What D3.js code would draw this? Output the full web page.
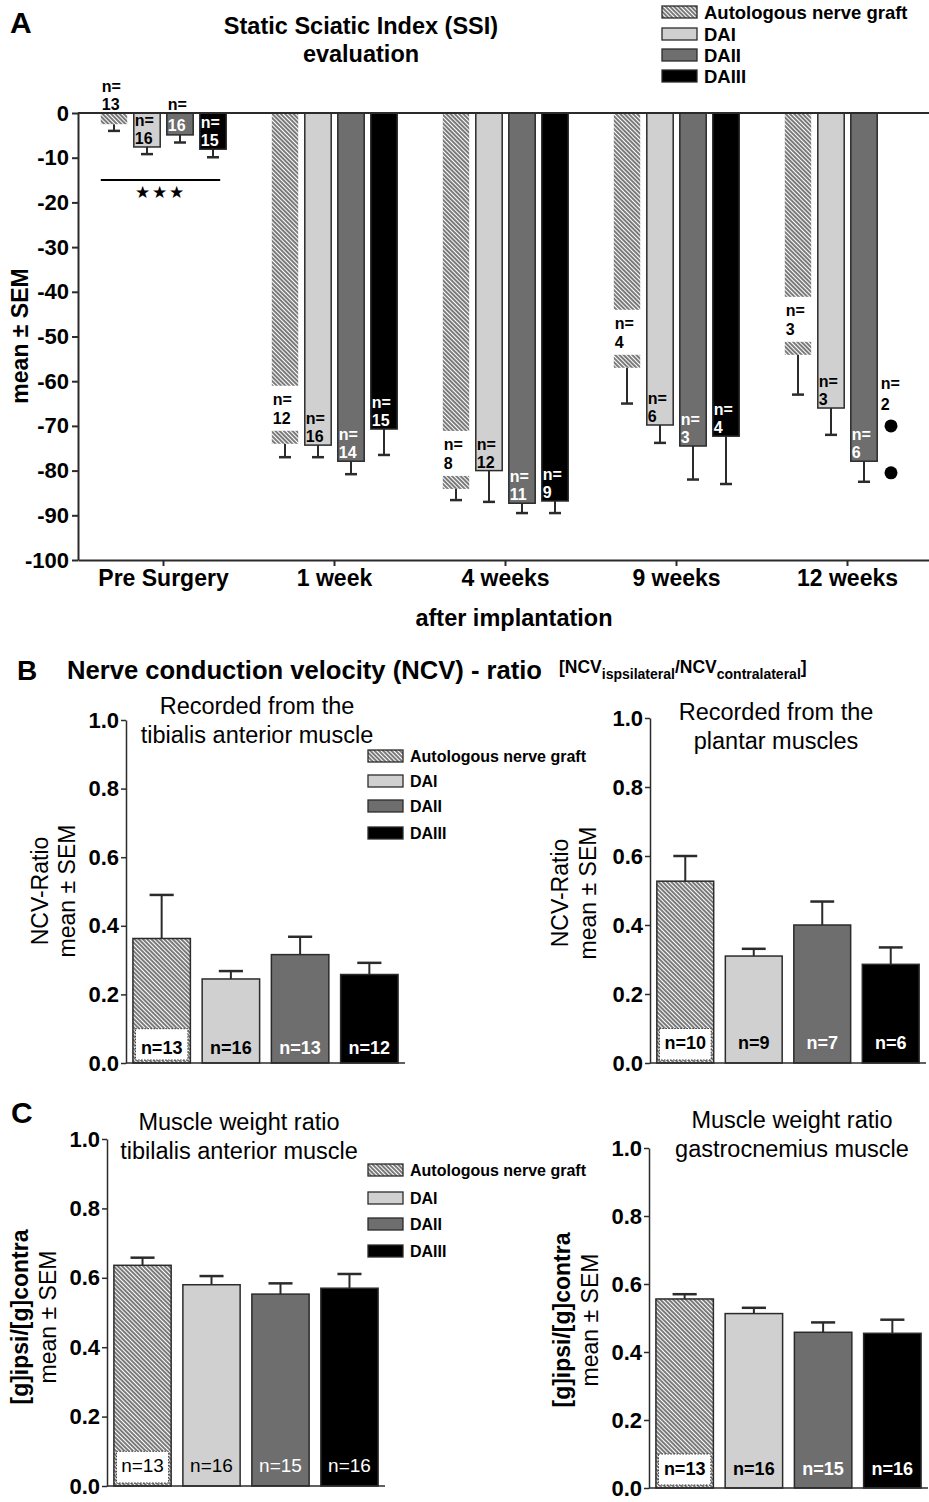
<!DOCTYPE html>
<html>
<head>
<meta charset="utf-8">
<title>SSI, NCV ratio and muscle weight ratio</title>
<script src="https://cdnjs.cloudflare.com/ajax/libs/d3/7.8.5/d3.min.js"></script>
<style>
  body { margin: 0; background: #fff; }
  svg { font-family: "Liberation Sans", Arial, sans-serif; }
</style>
</head>
<body>
<svg id="fig" width="929" height="1502"></svg>
<script>

// ---- data ----
const seriesNames = ['Autologous nerve graft', 'DAI', 'DAII', 'DAIII'];

// panel A: static sciatic index, rows = time point, cols = series
const ssiGroups = ['Pre Surgery', '1 week', '4 weeks', '9 weeks', '12 weeks'];
const ssiTicks = [0, -10, -20, -30, -40, -50, -60, -70, -80, -90, -100];
const ssiMean = [
  [-2.5, -7.6, -4.9, -8.1],
  [-74.0, -74.3, -77.9, -70.7],
  [-84.1, -80.0, -87.3, -86.8],
  [-57.0, -69.8, -74.5, -72.3],
  [-54.1, -66.0, -77.9, null]
];
const ssiSem = [
  [1.5, 1.6, 1.7, 1.8],
  [3.0, 2.7, 2.9, 5.8],
  [2.5, 7.0, 2.2, 2.7],
  [8.0, 4.0, 7.5, 10.7],
  [8.9, 6.0, 4.6, null]
];
const ssiN = [
  [13, 16, 16, 15],
  [12, 16, 14, 15],
  [8, 12, 11, 9],
  [4, 6, 3, 4],
  [3, 3, 6, 2]
];
// how the n= label sits on each bar
const ssiLabelMode = [
  ['above', 'inside', 'split', 'inside'],
  ['gap', 'inside', 'inside', 'inside'],
  ['gap', 'inside', 'inside', 'inside'],
  ['gap', 'inside', 'inside', 'inside'],
  ['gap', 'inside', 'inside', 'dots']
];
const ssiDots12wDAIII = [-70.0, -80.5];

// panels B and C: ratios
const ratioTicks = [0, 0.2, 0.4, 0.6, 0.8, 1.0];
const ncvTibMean = [0.363, 0.245, 0.316, 0.258];
const ncvTibSem = [0.127, 0.023, 0.052, 0.034];
const ncvTibN = [13, 16, 13, 12];
const ncvPlaMean = [0.527, 0.310, 0.400, 0.286];
const ncvPlaSem = [0.073, 0.021, 0.068, 0.049];
const ncvPlaN = [10, 9, 7, 6];
const mwTibMean = [0.636, 0.580, 0.553, 0.570];
const mwTibSem = [0.022, 0.025, 0.031, 0.041];
const mwTibN = [13, 16, 15, 16];
const mwGasMean = [0.556, 0.513, 0.458, 0.455];
const mwGasSem = [0.014, 0.017, 0.029, 0.040];
const mwGasN = [13, 16, 15, 16];

// ---- styles ----
const fills = ['url(#hatch)', '#d0d0d0', '#6e6e6e', '#000'];
const labelColor = ['#000', '#000', '#fff', '#fff'];
const ink = '#2b2b2b';

const svg = d3.select('#fig');

const hatch = svg.append('defs').append('pattern')
  .attr('id', 'hatch')
  .attr('patternUnits', 'userSpaceOnUse')
  .attr('width', 3).attr('height', 3)
  .attr('patternTransform', 'rotate(-45)');
hatch.append('rect').attr('width', 3).attr('height', 3).attr('fill', '#fff');
hatch.append('line').attr('x1', 1).attr('y1', -1).attr('x2', 1).attr('y2', 4)
  .attr('stroke', '#333').attr('stroke-width', 1.3);

function addText(x, y, str, size, weight, anchor) {
  return svg.append('text')
    .attr('x', x).attr('y', y)
    .attr('font-size', size)
    .attr('font-weight', weight || 'normal')
    .attr('text-anchor', anchor || 'start')
    .text(str);
}

function vLabel(x, y, str, size, weight) {
  svg.append('text')
    .attr('transform', `translate(${x},${y}) rotate(-90)`)
    .attr('font-size', size)
    .attr('font-weight', weight || 'normal')
    .attr('text-anchor', 'middle')
    .text(str);
}

function legend(x, rowY, size, swH) {
  seriesNames.forEach((s, i) => {
    svg.append('rect')
      .attr('x', x).attr('y', rowY[i] - swH / 2)
      .attr('width', 35).attr('height', swH)
      .attr('fill', fills[i]).attr('stroke', ink).attr('stroke-width', 1.3);
    addText(x + 42, rowY[i] + size * 0.36, s, size, 'bold');
  });
}

function styleAxis(g, size) {
  g.selectAll('text').attr('font-size', size).attr('font-weight', 'bold')
    .attr('font-family', '"Liberation Sans", Arial, sans-serif').attr('fill', '#000');
  g.selectAll('line').attr('stroke', ink);
  g.select('.domain').attr('stroke', ink);
}

// ---- panel A ----
const yA = d3.scaleLinear().domain([-100, 0]).range([560, 113]);
const xA = d3.scaleBand().domain(ssiGroups).range([78, 933]);
const xInA = d3.scaleBand().domain(seriesNames).range([-62.7, 62.7]).paddingInner(0.2);
const bwA = xInA.bandwidth();

addText(10, 33, 'A', 30, 'bold');
addText(361, 34, 'Static Sciatic Index (SSI)', 23.5, 'bold', 'middle');
addText(361, 62, 'evaluation', 23.5, 'bold', 'middle');
legend(662, [12, 34, 55, 76], 18.5, 12);

const gA = svg.append('g');
ssiGroups.forEach((grp, gi) => {
  const c = xA(grp) + xA.bandwidth() / 2;
  seriesNames.forEach((s, si) => {
    const m = ssiMean[gi][si];
    if (m === null) return;
    const x0 = c + xInA(s);
    const cx = x0 + bwA / 2;
    const yEnd = yA(m);
    const yErr = yA(m - ssiSem[gi][si]);
    // whisker
    gA.append('line').attr('x1', cx).attr('x2', cx).attr('y1', yEnd).attr('y2', yErr)
      .attr('stroke', ink).attr('stroke-width', 2);
    gA.append('line').attr('x1', cx - 6).attr('x2', cx + 6).attr('y1', yErr).attr('y2', yErr)
      .attr('stroke', ink).attr('stroke-width', 2.5);
    gA.append('rect')
      .attr('x', x0).attr('y', yA(0))
      .attr('width', bwA).attr('height', yEnd - yA(0))
      .attr('fill', fills[si])
      .attr('stroke', si === 0 ? 'none' : ink).attr('stroke-width', 1.5);

    const mode = ssiLabelMode[gi][si];
    const n = ssiN[gi][si];
    const lx = x0 + 1;
    const lab = (yy, str, col) => gA.append('text').attr('x', lx).attr('y', yy)
      .attr('font-size', 16).attr('font-weight', 'bold').attr('fill', col).text(str);
    if (mode === 'above') {
      lab(yA(0) - 21, 'n=', '#000');
      lab(yA(0) - 3, n, '#000');
    } else if (mode === 'inside') {
      lab(yEnd - 21, 'n=', labelColor[si]);
      lab(yEnd - 3, n, labelColor[si]);
    } else if (mode === 'split') {
      lab(yA(0) - 3, 'n=', '#000');
      lab(yEnd - 4, n, labelColor[si]);
    } else if (mode === 'gap') {
      const gapBottom = yEnd - 13;
      gA.append('rect').attr('x', x0 - 1).attr('y', gapBottom - 45)
        .attr('width', bwA + 2).attr('height', 45).attr('fill', '#fff');
      lab(gapBottom - 26, 'n=', '#000');
      lab(gapBottom - 7, n, '#000');
    }
  });
});

// DAIII at 12 weeks: individual values
{
  const c = xA('12 weeks') + xA.bandwidth() / 2;
  const x0 = c + xInA('DAIII');
  const cx = x0 + bwA / 2 - 6;
  gA.selectAll('circle.dot').data(ssiDots12wDAIII).enter().append('circle')
    .attr('cx', cx).attr('cy', d => yA(d)).attr('r', 6.5).attr('fill', '#000');
  const top = yA(d3.max(ssiDots12wDAIII));
  gA.append('text').attr('x', x0 - 3).attr('y', top - 37).attr('font-size', 16).attr('font-weight', 'bold').text('n=');
  gA.append('text').attr('x', x0 - 3).attr('y', top - 16).attr('font-size', 16).attr('font-weight', 'bold').text(ssiN[4][3]);
}

// zero line
gA.append('line').attr('x1', 78).attr('x2', 929).attr('y1', yA(0)).attr('y2', yA(0))
  .attr('stroke', ink).attr('stroke-width', 2);

// significance bar for pre surgery
{
  const c = xA('Pre Surgery') + xA.bandwidth() / 2;
  const x1 = c + xInA('Autologous nerve graft');
  const x2 = c + xInA('DAIII') + bwA - 6;
  gA.append('line').attr('x1', x1).attr('x2', x2).attr('y1', yA(-15)).attr('y2', yA(-15))
    .attr('stroke', '#000').attr('stroke-width', 2);
  gA.append('text').attr('x', (x1 + x2) / 2).attr('y', yA(-15) + 18).attr('text-anchor', 'middle')
    .attr('font-size', 17).attr('letter-spacing', 2).text('\u2605\u2605\u2605');
}

const yAxisA = svg.append('g').attr('transform', 'translate(78,0)')
  .call(d3.axisLeft(yA).tickValues(ssiTicks).tickSize(6).tickSizeOuter(0).tickPadding(3).tickFormat(d => String(d)));
styleAxis(yAxisA, 22);
yAxisA.selectAll('line, .domain').attr('stroke-width', 2);

const xAxisA = svg.append('g').attr('transform', 'translate(0,560)')
  .call(d3.axisBottom(xA).tickSize(6).tickSizeOuter(0).tickPadding(4));
styleAxis(xAxisA, 23);
xAxisA.selectAll('line, .domain').attr('stroke-width', 2);

vLabel(28, 336, 'mean \u00b1 SEM', 23, 'bold');
addText(514, 626, 'after implantation', 23.5, 'bold', 'middle');

// ---- panels B and C ----
function ratioPanel(cfg) {
  const y = d3.scaleLinear().domain([0, 1]).range([cfg.bottom, cfg.top]);
  const x = d3.scaleBand().domain(seriesNames).range([cfg.left, cfg.right])
    .paddingInner(0.17).paddingOuter(0.1);
  const bw = x.bandwidth();
  const g = svg.append('g');

  seriesNames.forEach((s, i) => {
    const x0 = x(s);
    const cx = x0 + bw / 2;
    const yTop = y(cfg.mean[i]);
    const yErr = y(cfg.mean[i] + cfg.sem[i]);
    g.append('line').attr('x1', cx).attr('x2', cx).attr('y1', yTop + 6).attr('y2', yErr)
      .attr('stroke', ink).attr('stroke-width', 2);
    g.append('line').attr('x1', cx - bw * 0.21).attr('x2', cx + bw * 0.21).attr('y1', yErr).attr('y2', yErr)
      .attr('stroke', ink).attr('stroke-width', 2.5);
    g.append('rect')
      .attr('x', x0).attr('y', yTop)
      .attr('width', bw).attr('height', y(0) - yTop)
      .attr('fill', fills[i]).attr('stroke', ink).attr('stroke-width', 1.5);
    if (i === 0) {
      g.append('rect')
        .attr('x', x0 + 2.5).attr('y', y(0.1))
        .attr('width', bw - 5).attr('height', y(0) - y(0.1) - 3)
        .attr('fill', '#fff').attr('stroke', '#333').attr('stroke-width', 1)
        .attr('stroke-dasharray', '1.5,1.5');
    }
    g.append('text')
      .attr('x', cx).attr('y', y(0) - cfg.nOffset)
      .attr('text-anchor', 'middle')
      .attr('font-size', cfg.nSize).attr('font-weight', cfg.nWeight)
      .attr('fill', labelColor[i])
      .text('n=' + cfg.n[i]);
  });

  g.append('line').attr('x1', cfg.left).attr('x2', cfg.right).attr('y1', y(0)).attr('y2', y(0))
    .attr('stroke', ink).attr('stroke-width', 1.5);
  const ax = svg.append('g').attr('transform', `translate(${cfg.left},0)`)
    .call(d3.axisLeft(y).tickValues(ratioTicks).tickSize(5).tickSizeOuter(0).tickPadding(2)
      .tickFormat(d3.format('.1f')));
  styleAxis(ax, 22);
  ax.selectAll('line, .domain').attr('stroke-width', 1.5);

  cfg.title.forEach((t, k) => addText(cfg.titleX, cfg.titleY[k], t, 23.5, 'normal', 'middle'));
  vLabel(cfg.labX[0], cfg.labY, cfg.label[0], 23, cfg.labelWeight);
  vLabel(cfg.labX[1], cfg.labY, cfg.label[1], 23, 'normal');
}

// B
addText(17, 680, 'B', 28, 'bold');
addText(67, 679, 'Nerve conduction velocity (NCV) - ratio', 25.6, 'bold');
{
  const br = svg.append('text').attr('x', 559).attr('y', 673).attr('font-size', 17.5).attr('font-weight', 'bold');
  br.append('tspan').text('[NCV');
  br.append('tspan').attr('font-size', 14).attr('dy', 6).text('ispsilateral');
  br.append('tspan').attr('dy', -6).text('/NCV');
  br.append('tspan').attr('font-size', 14).attr('dy', 6).text('contralateral');
  br.append('tspan').attr('dy', -6).text(']');
}

ratioPanel({
  left: 126, right: 405, top: 720, bottom: 1063,
  mean: ncvTibMean, sem: ncvTibSem, n: ncvTibN,
  nOffset: 9, nSize: 18, nWeight: 'bold',
  title: ['Recorded from the', 'tibialis anterior muscle'], titleX: 257, titleY: [714, 743],
  label: ['NCV-Ratio', 'mean \u00b1 SEM'], labelWeight: 'normal', labX: [48, 75], labY: 891
});
legend(368, [756, 781, 806, 833], 16, 12);

ratioPanel({
  left: 650, right: 926, top: 718, bottom: 1063,
  mean: ncvPlaMean, sem: ncvPlaSem, n: ncvPlaN,
  nOffset: 14, nSize: 18, nWeight: 'bold',
  title: ['Recorded from the', 'plantar muscles'], titleX: 776, titleY: [720, 749],
  label: ['NCV-Ratio', 'mean \u00b1 SEM'], labelWeight: 'normal', labX: [568, 596], labY: 893
});

// C
addText(11, 1123, 'C', 30, 'bold');
ratioPanel({
  left: 107, right: 385, top: 1139, bottom: 1486,
  mean: mwTibMean, sem: mwTibSem, n: mwTibN,
  nOffset: 14, nSize: 19, nWeight: 'normal',
  title: ['Muscle weight ratio', 'tibilalis anterior muscle'], titleX: 239, titleY: [1130, 1159],
  label: ['[g]ipsi/[g]contra', 'mean \u00b1 SEM'], labelWeight: 'bold', labX: [28, 56], labY: 1317
});
legend(368, [1170, 1198, 1224, 1251], 16, 12);

ratioPanel({
  left: 649, right: 928, top: 1148, bottom: 1488,
  mean: mwGasMean, sem: mwGasSem, n: mwGasN,
  nOffset: 13, nSize: 18, nWeight: 'bold',
  title: ['Muscle weight ratio', 'gastrocnemius muscle'], titleX: 792, titleY: [1128, 1157],
  label: ['[g]ipsi/[g]contra', 'mean \u00b1 SEM'], labelWeight: 'bold', labX: [570, 598], labY: 1320
});

</script>
</body>
</html>
